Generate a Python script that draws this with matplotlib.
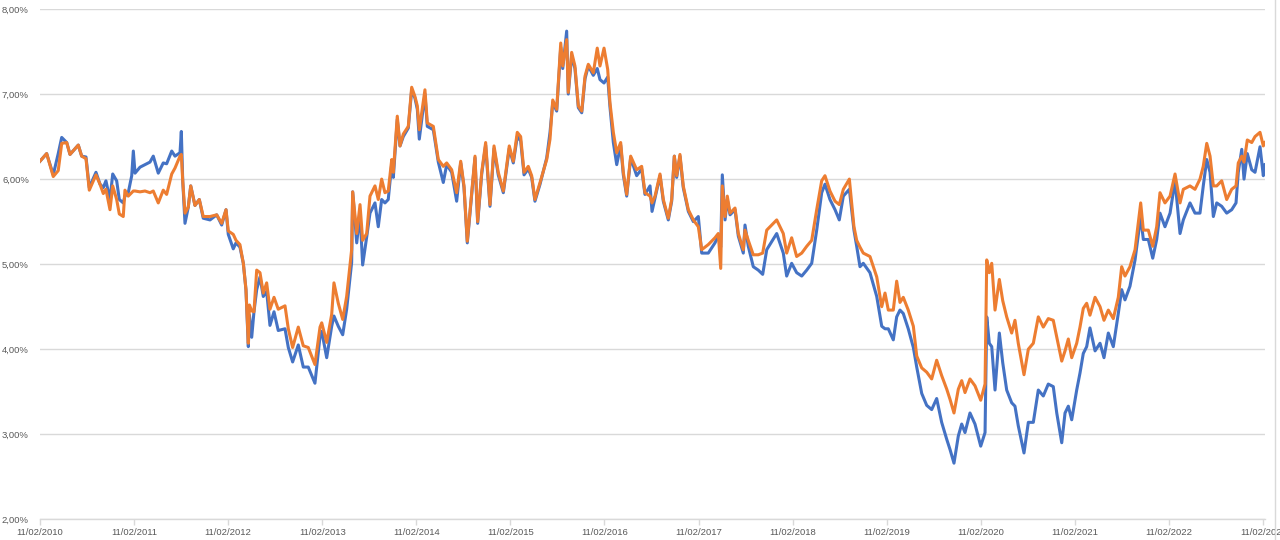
import matplotlib
matplotlib.use("Agg")
import matplotlib.pyplot as plt
from matplotlib.ticker import FuncFormatter
from matplotlib.lines import Line2D
import pandas as pd

# decimal-year time stamps
years = [
2010.112,2010.183,2010.253,2010.306,2010.343,2010.396,2010.431,2010.519,2010.555,2010.601,
2010.636,2010.707,2010.750,2010.785,2010.813,2010.856,2010.885,2010.927,2010.955,2010.997,
2011.015,2011.050,2011.087,2011.104,2011.122,2011.175,2011.228,2011.281,2011.316,2011.369,
2011.422,2011.458,2011.512,2011.547,2011.600,2011.614,2011.629,2011.653,2011.688,2011.714,
2011.759,2011.805,2011.847,2011.919,2011.990,2012.043,2012.089,2012.113,2012.166,2012.195,
2012.237,2012.273,2012.301,2012.326,2012.338,2012.362,2012.386,2012.415,2012.450,2012.485,
2012.521,2012.556,2012.599,2012.644,2012.716,2012.751,2012.797,2012.857,2012.910,2012.963,
2013.034,2013.088,2013.106,2013.159,2013.212,2013.236,2013.282,2013.329,2013.371,2013.424,
2013.435,2013.478,2013.513,2013.541,2013.584,2013.619,2013.672,2013.707,2013.743,2013.778,
2013.813,2013.850,2013.867,2013.909,2013.938,2013.973,2014.026,2014.062,2014.097,2014.122,
2014.143,2014.203,2014.228,2014.292,2014.345,2014.398,2014.434,2014.487,2014.540,2014.583,
2014.618,2014.653,2014.700,2014.735,2014.763,2014.806,2014.848,2014.894,2014.937,2014.982,
2015.036,2015.099,2015.142,2015.184,2015.220,2015.256,2015.301,2015.337,2015.372,2015.426,
2015.497,2015.532,2015.561,2015.603,2015.646,2015.667,2015.709,2015.726,2015.762,2015.797,
2015.833,2015.869,2015.904,2015.939,2015.992,2016.034,2016.063,2016.106,2016.145,2016.169,
2016.205,2016.241,2016.283,2016.311,2016.347,2016.389,2016.453,2016.506,2016.541,2016.595,
2016.616,2016.648,2016.701,2016.736,2016.789,2016.825,2016.853,2016.878,2016.913,2016.948,
2017.002,2017.055,2017.108,2017.144,2017.214,2017.285,2017.320,2017.346,2017.363,2017.392,
2017.416,2017.445,2017.498,2017.533,2017.586,2017.604,2017.639,2017.692,2017.745,2017.792,
2017.835,2017.941,2018.011,2018.047,2018.100,2018.153,2018.207,2018.260,2018.313,2018.366,
2018.419,2018.454,2018.507,2018.561,2018.606,2018.649,2018.713,2018.762,2018.791,2018.826,
2018.861,2018.932,2019.004,2019.057,2019.092,2019.127,2019.180,2019.216,2019.251,2019.286,
2019.339,2019.393,2019.429,2019.482,2019.535,2019.588,2019.641,2019.694,2019.748,2019.783,
2019.825,2019.871,2019.907,2019.942,2019.995,2020.048,2020.109,2020.155,2020.173,2020.200,
2020.226,2020.261,2020.307,2020.343,2020.385,2020.438,2020.473,2020.508,2020.569,2020.615,
2020.668,2020.721,2020.774,2020.827,2020.880,2020.917,2020.970,2021.005,2021.040,2021.076,
2021.129,2021.164,2021.199,2021.235,2021.270,2021.324,2021.377,2021.419,2021.465,2021.518,
2021.571,2021.607,2021.642,2021.695,2021.749,2021.809,2021.837,2021.890,2021.937,2021.979,
2022.014,2022.067,2022.121,2022.174,2022.227,2022.262,2022.333,2022.386,2022.439,2022.474,
2022.511,2022.546,2022.581,2022.617,2022.670,2022.723,2022.776,2022.822,2022.846,2022.883,
2022.907,2022.942,2022.989,2023.024,2023.077,2023.112,2023.130]

# blue series (%)
blue = [
6.21,6.30,6.05,6.30,6.49,6.43,6.29,6.40,6.27,6.26,
5.90,6.08,5.94,5.90,5.98,5.76,6.06,5.98,5.76,5.72,
5.80,5.84,6.04,6.33,6.07,6.14,6.17,6.20,6.27,6.07,
6.19,6.18,6.33,6.27,6.31,6.56,5.98,5.48,5.67,5.92,
5.69,5.76,5.54,5.52,5.58,5.46,5.64,5.35,5.18,5.25,
5.20,5.01,4.70,4.03,4.40,4.14,4.44,4.70,4.85,4.62,
4.68,4.28,4.44,4.22,4.24,4.02,3.85,4.05,3.79,3.79,
3.60,4.15,4.21,3.90,4.27,4.39,4.27,4.17,4.47,5.02,
5.85,5.25,5.60,4.99,5.32,5.60,5.72,5.44,5.76,5.72,
5.76,6.18,6.02,6.70,6.39,6.50,6.60,7.05,6.95,6.82,
6.47,7.00,6.62,6.58,6.20,5.96,6.17,6.08,5.74,6.19,
5.90,5.25,5.82,6.25,5.48,6.06,6.40,5.68,6.36,6.05,
5.84,6.36,6.19,6.50,6.45,6.05,6.12,6.02,5.74,5.94,
6.25,6.55,6.90,6.80,7.55,7.30,7.74,7.00,7.45,7.30,
6.84,6.78,7.18,7.33,7.22,7.30,7.17,7.13,7.20,6.85,
6.43,6.17,6.40,6.05,5.80,6.25,6.04,6.12,5.82,5.92,
5.62,5.78,6.04,5.74,5.52,5.74,6.27,6.02,6.27,5.90,
5.62,5.50,5.56,5.13,5.13,5.25,5.33,5.20,6.05,5.52,
5.76,5.58,5.64,5.33,5.13,5.46,5.21,4.97,4.93,4.88,
5.17,5.36,5.13,4.86,5.01,4.90,4.86,4.93,5.01,5.40,
5.84,5.94,5.76,5.64,5.52,5.80,5.88,5.40,5.21,4.97,
5.01,4.90,4.62,4.27,4.24,4.24,4.11,4.38,4.46,4.42,
4.24,4.02,3.79,3.48,3.34,3.29,3.42,3.14,2.94,2.82,
2.66,2.98,3.12,3.02,3.25,3.12,2.86,3.02,4.38,4.07,
4.03,3.52,4.19,3.84,3.52,3.37,3.33,3.10,2.78,3.14,
3.14,3.52,3.45,3.59,3.56,3.25,2.90,3.25,3.33,3.17,
3.52,3.72,3.95,4.03,4.25,3.98,4.07,3.90,4.19,4.03,
4.42,4.70,4.58,4.74,5.05,5.56,5.29,5.29,5.07,5.29,
5.60,5.44,5.60,5.98,5.36,5.52,5.72,5.60,5.60,5.92,
6.23,6.08,5.56,5.72,5.68,5.60,5.64,5.72,6.08,6.35,
6.00,6.30,6.11,6.08,6.38,6.04,6.17]

# orange series (%)
orange = [
6.21,6.30,6.03,6.10,6.42,6.43,6.29,6.40,6.27,6.24,
5.87,6.05,5.94,5.83,5.88,5.64,5.92,5.76,5.59,5.56,
5.87,5.80,5.84,5.86,5.86,5.85,5.86,5.84,5.86,5.72,
5.87,5.82,6.06,6.13,6.27,6.29,5.98,5.60,5.67,5.92,
5.69,5.76,5.56,5.56,5.58,5.48,5.64,5.39,5.35,5.28,
5.23,5.01,4.70,4.07,4.52,4.45,4.44,4.93,4.90,4.66,
4.78,4.47,4.61,4.47,4.51,4.24,4.02,4.26,4.04,4.02,
3.82,4.26,4.31,4.08,4.41,4.78,4.54,4.35,4.62,5.17,
5.85,5.36,5.70,5.28,5.36,5.80,5.92,5.76,6.00,5.84,
5.86,6.23,6.08,6.74,6.39,6.53,6.62,7.08,6.97,6.86,
6.58,7.05,6.66,6.62,6.23,6.15,6.19,6.11,5.84,6.21,
5.92,5.27,5.84,6.27,5.50,6.08,6.43,5.70,6.39,6.08,
5.86,6.39,6.21,6.55,6.50,6.08,6.15,6.04,5.76,5.96,
6.23,6.47,6.93,6.82,7.60,7.33,7.64,7.02,7.49,7.33,
6.86,6.80,7.21,7.35,7.25,7.54,7.33,7.54,7.29,6.90,
6.55,6.31,6.43,6.08,5.82,6.27,6.11,6.15,5.84,5.80,
5.72,5.80,6.06,5.76,5.54,5.76,6.27,6.04,6.29,5.92,
5.64,5.52,5.44,5.17,5.23,5.31,5.36,4.95,5.92,5.56,
5.80,5.60,5.66,5.36,5.17,5.40,5.28,5.11,5.11,5.13,
5.40,5.52,5.36,5.13,5.31,5.09,5.13,5.21,5.28,5.64,
5.98,6.04,5.86,5.74,5.70,5.88,6.00,5.44,5.28,5.20,
5.13,5.09,4.85,4.50,4.66,4.46,4.46,4.80,4.55,4.61,
4.46,4.27,3.92,3.78,3.73,3.65,3.87,3.69,3.53,3.41,
3.25,3.53,3.63,3.49,3.65,3.57,3.40,3.59,5.05,4.90,
5.01,4.46,4.82,4.57,4.38,4.19,4.34,4.07,3.70,4.00,
4.07,4.38,4.26,4.36,4.34,4.14,3.86,3.98,4.12,3.90,
4.07,4.26,4.48,4.54,4.40,4.61,4.50,4.34,4.46,4.36,
4.61,4.97,4.86,4.97,5.17,5.72,5.40,5.40,5.21,5.44,
5.84,5.72,5.80,6.06,5.72,5.88,5.92,5.88,6.00,6.15,
6.42,6.27,5.92,5.92,5.98,5.76,5.88,5.92,6.19,6.27,
6.20,6.46,6.43,6.50,6.55,6.39,6.43]

tick_years = list(range(2010, 2024))
y_ticks = [2, 3, 4, 5, 6, 7, 8]

base = pd.Timestamp("2010-01-01")
dates = [base + pd.Timedelta(days=(y - 2010) * 365.25) for y in years]

plt.rcParams['font.family'] = ['Liberation Sans', 'DejaVu Sans']

fig = plt.figure(figsize=(12.8, 5.4), dpi=100)
ax = fig.add_axes([40/1280, 1 - 519.3/540, (1265 - 40)/1280, (519.3 - 9)/540])

ax.plot(dates, blue, color='#4472C4', lw=2.2, solid_joinstyle='round', zorder=3)
ax.plot(dates, orange, color='#ED7D31', lw=2.2, solid_joinstyle='round', zorder=4)

ax.set_ylim(2, 8)
ax.set_yticks(y_ticks)
ax.yaxis.set_major_formatter(FuncFormatter(lambda v, p: f"{v:.2f}".replace('.', ',') + "%"))
ax.set_xlim(pd.Timestamp("2010-02-11"), base + pd.Timedelta(days=(2023.130 - 2010) * 365.25))
xt = [pd.Timestamp(f"{y}-02-11") for y in tick_years]
ax.set_xticks(xt)
ax.set_xticklabels([t.strftime("%d/%m/%Y") for t in xt])

ax.grid(axis='y', color='#D9D9D9', lw=1.0, zorder=0)
for s in ['top', 'right', 'left']:
    ax.spines[s].set_visible(False)
ax.spines['bottom'].set_color('#D9D9D9')
ax.spines['bottom'].set_linewidth(1.0)
ax.tick_params(axis='y', length=0, pad=8, labelsize=6.8, labelcolor='#595959')
ax.tick_params(axis='x', length=4, width=1, color='#D9D9D9', pad=2, labelsize=6.8, labelcolor='#595959')

fig.add_artist(Line2D([1275/1280, 1275/1280], [0, 1], color='#D9D9D9', lw=1.0))

fig.savefig("out.png", dpi=100)
